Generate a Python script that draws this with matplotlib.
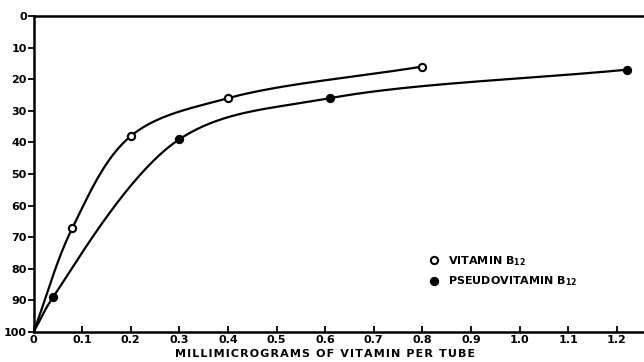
import numpy as np
import matplotlib
matplotlib.use("Agg")
import matplotlib.pyplot as plt
from matplotlib.lines import Line2D

# Data
vit_x = [0.0, 0.08, 0.2, 0.4, 0.8]
vit_y = [100, 67, 38, 26, 16]
pseudo_x = [0.0, 0.04, 0.3, 0.61, 1.22]
pseudo_y = [100, 89, 39, 26, 17]
xtick_vals = [0, 0.1, 0.2, 0.3, 0.4, 0.5, 0.6, 0.7, 0.8, 0.9, 1.0, 1.1, 1.2]
xtick_labels = ["0", "0.1", "0.2", "0.3", "0.4", "0.5", "0.6", "0.7", "0.8", "0.9", "1.0", "1.1", "1.2"]
ytick_vals = [0, 10, 20, 30, 40, 50, 60, 70, 80, 90, 100]
ytick_labels = ["0", "10", "20", "30", "40", "50", "60", "70", "80", "90", "100"]
xlabel = "MILLIMICROGRAMS OF VITAMIN PER TUBE"
legend_labels = [r"VITAMIN B$_{\mathbf{12}}$", r"PSEUDOVITAMIN B$_{\mathbf{12}}$"]


def catmull_rom(x, y, sx=486.0, sy=3.15, n=60, alpha=0.5):
    """Centripetal Catmull-Rom curve through the points (computed in pixel-like space)."""
    P = np.column_stack([np.asarray(x, float) * sx, np.asarray(y, float) * sy])
    P = np.vstack([2 * P[0] - P[1], P, 2 * P[-1] - P[-2]])
    out = []
    for i in range(1, len(P) - 2):
        p0, p1, p2, p3 = P[i - 1], P[i], P[i + 1], P[i + 2]
        t0 = 0.0
        t1 = t0 + np.linalg.norm(p1 - p0) ** alpha
        t2 = t1 + np.linalg.norm(p2 - p1) ** alpha
        t3 = t2 + np.linalg.norm(p3 - p2) ** alpha
        t = np.linspace(t1, t2, n)[:, None]
        a1 = (t1 - t) / (t1 - t0) * p0 + (t - t0) / (t1 - t0) * p1
        a2 = (t2 - t) / (t2 - t1) * p1 + (t - t1) / (t2 - t1) * p2
        a3 = (t3 - t) / (t3 - t2) * p2 + (t - t2) / (t3 - t2) * p3
        b1 = (t2 - t) / (t2 - t0) * a1 + (t - t0) / (t2 - t0) * a2
        b2 = (t3 - t) / (t3 - t1) * a2 + (t - t1) / (t3 - t1) * a3
        c = (t2 - t) / (t2 - t1) * b1 + (t - t1) / (t2 - t1) * b2
        out.append(c)
    C = np.vstack(out)
    return C[:, 0] / sx, C[:, 1] / sy


W, H = 644, 362
fig = plt.figure(figsize=(W / 100, H / 100), dpi=100)
ax = fig.add_axes([33.6 / W, 30 / H, 1 - 33.6 / W, (332 - 16) / H])

for xs_, ys_, face in [(vit_x, vit_y, "white"), (pseudo_x, pseudo_y, "black")]:
    cx, cy = catmull_rom(xs_, ys_)
    ax.plot(cx, cy, color="black", lw=1.6, zorder=2)
    ax.plot(xs_[1:], ys_[1:], "o", ms=5.2, mfc=face, mec="black", mew=1.5, zorder=3)

ax.set_xlim(0, 1.256)
ax.set_ylim(100, 0)
for s in ["left", "bottom", "top"]:
    ax.spines[s].set_linewidth(1.8)
ax.spines["right"].set_visible(False)

ax.set_xticks(xtick_vals)
ax.set_xticklabels(xtick_labels, fontsize=8, fontweight="bold")
ax.set_yticks(ytick_vals)
ax.set_yticklabels(ytick_labels, fontsize=8, fontweight="bold")
ax.tick_params(axis="x", direction="in", length=4, width=1.3, pad=2)
ax.tick_params(axis="y", direction="out", length=4, width=1.3, pad=1)

spaced = "\u200a".join(list(xlabel))
ax.set_xlabel(spaced, fontsize=8, fontweight="bold")
ax.xaxis.set_label_coords(0.477, -0.053)

handles = [Line2D([], [], ls="none", marker="o", ms=5.2, mfc="white", mec="black", mew=1.5),
           Line2D([], [], ls="none", marker="o", ms=5.2, mfc="black", mec="black", mew=1.5)]
leg = ax.legend(handles, legend_labels, loc="upper left",
                bbox_to_anchor=(420 / W, 1 - 244 / H), bbox_transform=fig.transFigure,
                frameon=False, handlelength=0.8, handletextpad=0.8, labelspacing=0.6,
                prop={"size": 8, "weight": "bold"})

fig.savefig("out.png", dpi=100)
